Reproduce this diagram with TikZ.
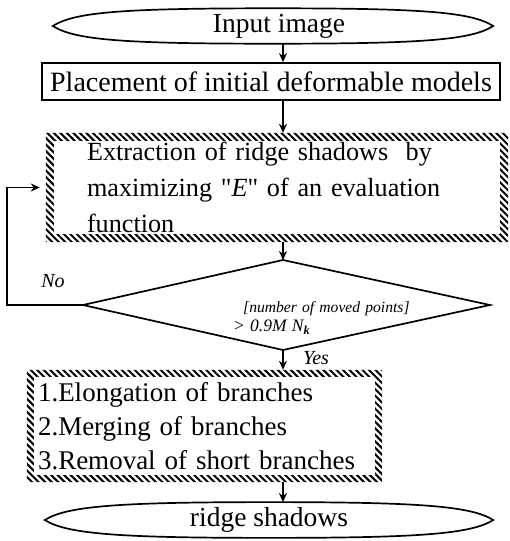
\documentclass[tikz,border=0pt]{standalone}
\usepackage{fontspec}
\setmainfont{Liberation Serif}
\usetikzlibrary{shapes.geometric,arrows.meta,patterns.meta}
\begin{document}
\begin{tikzpicture}[x=1pt,y=-1pt,
  line/.style={line width=1.7pt},
  arr/.style={line width=1.7pt,-{Stealth[length=9pt,width=8pt]}},
  term/.style={ellipse,inner sep=0pt,font=\fontsize{27.5}{33}\selectfont},
  lens/.style={line width=1.7pt},
  proc/.style={rectangle,draw,line width=1.7pt,inner sep=0pt,font=\fontsize{28}{33}\selectfont},
  hatchbox/.style={rectangle,inner ysep=0pt,align=left},
  hatch/.style={pattern={Lines[angle=-45,distance=4.6pt,line width=2pt]},even odd rule},
  lab/.style={inner sep=0pt,font=\fontsize{20}{24}\selectfont\itshape}]
\useasboundingbox (0,0) rectangle (509,541);
% terminals and boxes
\node[term,minimum width=440pt,minimum height=35pt] (inp) at (273,26) {\hspace*{12pt}Input image};
\draw[lens] (inp.west) .. controls +(22,-14) and +(-150,0) .. (inp.north)
  .. controls +(150,0) and +(-22,-14) .. (inp.east)
  .. controls +(-22,14) and +(150,0) .. (inp.south)
  .. controls +(-150,0) and +(22,14) .. (inp.west) -- cycle;
\node[proc,minimum width=458pt,minimum height=37pt] (b2) at (271,81.5) {Placement of initial deformable models};
\node[hatchbox,minimum width=462pt,minimum height=109pt,text width=380pt,inner xsep=41pt,
      font=\fontsize{26.2}{36}\selectfont] (b3) at (277,187.5)
  {Extraction of ridge shadows\ \ by\\maximizing \textquotedbl\textit{E}\textquotedbl\ of an evaluation\\function};
\fill[hatch] (b3.north west) rectangle (b3.south east)
  ([shift={(8,8)}]b3.north west) rectangle ([shift={(-8,-8)}]b3.south east);
% decision
\coordinate (dt) at (283,260);
\coordinate (dl) at (83,305);
\coordinate (dr) at (490,305);
\coordinate (db) at (283,350);
\draw[line,line join=miter] (dt) -- (dr) -- (db) -- (dl) -- cycle;
\node[inner sep=0pt,anchor=west,text width=180pt,align=left,
      font=\fontsize{15.6}{18.5}\selectfont\itshape] (dtext) at (233,318)
  {\hspace*{10pt}[number of moved points]\\{\fontsize{17.5}{18.5}\selectfont > 0.9M N\textsubscript{\textbf{k}}}};
\node[hatchbox,minimum width=355pt,minimum height=112pt,text width=333pt,inner xsep=11pt,
      font=\fontsize{27}{34}\selectfont] (b4) at (204.5,426)
  {1.Elongation of branches\\2.Merging of branches\\3.Removal of short branches};
\fill[hatch] (b4.north west) rectangle (b4.south east)
  ([shift={(7,7)}]b4.north west) rectangle ([shift={(-7,-7)}]b4.south east);
\node[term,minimum width=448pt,minimum height=34pt] (out) at (269,520) {ridge shadows};
\draw[lens] (out.west) .. controls +(22,-14) and +(-150,0) .. (out.north)
  .. controls +(150,0) and +(-22,-14) .. (out.east)
  .. controls +(-22,14) and +(150,0) .. (out.south)
  .. controls +(-150,0) and +(22,14) .. (out.west) -- cycle;
% labels
\coordinate (fb) at (7,305);
\node[lab] (no) at (53,281) {No};
\node[lab] (yes) at (316,358) {Yes};
% connectors
\draw[arr] (inp.south -| dt) -- (b2.north -| dt);
\draw[arr] (b2.south -| dt) -- (b3.north -| dt);
\draw[arr] (b3.south -| dt) -- (dt);
\draw[arr] (db) -- (b4.north -| db);
\draw[arr] (b4.south -| db) -- (out.north -| db);
\draw[arr] (dl) -- (fb) |- ([xshift=-6pt]b3.west);
\end{tikzpicture}
\end{document}
